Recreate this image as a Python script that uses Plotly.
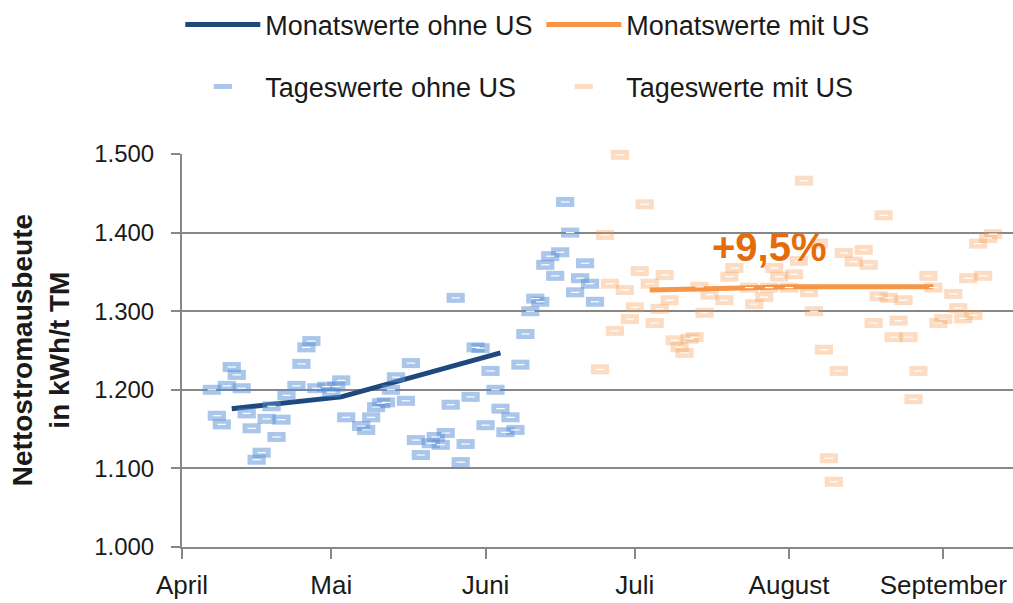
import plotly.graph_objects as go

# ---------------- data ----------------
months = ["April", "Mai", "Juni", "Juli", "August", "September"]
month_starts = ["2015-04-01", "2015-05-01", "2015-06-01", "2015-07-01", "2015-08-01", "2015-09-01"]

daily_ohne_dates = [
    "2015-04-07", "2015-04-08", "2015-04-09", "2015-04-10", "2015-04-11", "2015-04-12", "2015-04-13",
    "2015-04-14", "2015-04-15", "2015-04-16", "2015-04-17", "2015-04-18", "2015-04-19", "2015-04-20",
    "2015-04-21", "2015-04-22", "2015-04-24", "2015-04-25", "2015-04-26", "2015-04-27", "2015-04-28",
    "2015-04-30", "2015-05-01", "2015-05-02", "2015-05-03", "2015-05-04", "2015-05-07", "2015-05-08",
    "2015-05-09", "2015-05-10", "2015-05-11", "2015-05-12", "2015-05-13", "2015-05-14", "2015-05-16",
    "2015-05-17", "2015-05-18", "2015-05-19", "2015-05-21", "2015-05-22", "2015-05-23", "2015-05-24",
    "2015-05-25", "2015-05-26", "2015-05-27", "2015-05-28", "2015-05-29", "2015-05-30", "2015-05-31",
    "2015-06-01", "2015-06-02", "2015-06-03", "2015-06-04", "2015-06-05", "2015-06-06", "2015-06-07",
    "2015-06-08", "2015-06-09", "2015-06-10", "2015-06-11", "2015-06-12", "2015-06-13", "2015-06-14",
    "2015-06-15", "2015-06-16", "2015-06-17", "2015-06-18", "2015-06-19", "2015-06-20", "2015-06-21",
    "2015-06-22", "2015-06-23",
]
daily_ohne_values = [
    1200, 1167, 1156, 1205, 1229, 1219, 1202,
    1170, 1151, 1111, 1120, 1163, 1179, 1140,
    1162, 1193, 1205, 1233, 1254, 1262, 1202,
    1204, 1197, 1204, 1212, 1165, 1154, 1149,
    1165, 1178, 1183, 1184, 1200, 1216, 1186,
    1234, 1136, 1117, 1132, 1140, 1130, 1145,
    1181, 1317, 1108, 1131, 1191, 1254, 1253,
    1155, 1224, 1200, 1176, 1146, 1165, 1149,
    1232, 1271, 1300, 1316, 1312, 1359, 1370,
    1345, 1375, 1439, 1400, 1324, 1342, 1361,
    1335, 1312,
]

daily_mit_dates = [
    "2015-06-24", "2015-06-25", "2015-06-26", "2015-06-27", "2015-06-28", "2015-06-29", "2015-06-30",
    "2015-07-01", "2015-07-02", "2015-07-03", "2015-07-04", "2015-07-05", "2015-07-06", "2015-07-07",
    "2015-07-08", "2015-07-09", "2015-07-10", "2015-07-11", "2015-07-12", "2015-07-13", "2015-07-14",
    "2015-07-15", "2015-07-16", "2015-07-19", "2015-07-20", "2015-07-21", "2015-07-24", "2015-07-25",
    "2015-07-27", "2015-07-28", "2015-07-29", "2015-07-30", "2015-08-01", "2015-08-02", "2015-08-03",
    "2015-08-04", "2015-08-05", "2015-08-06", "2015-08-07", "2015-08-08", "2015-08-09", "2015-08-10",
    "2015-08-11", "2015-08-12", "2015-08-14", "2015-08-16", "2015-08-17", "2015-08-18", "2015-08-19",
    "2015-08-20", "2015-08-21", "2015-08-22", "2015-08-23", "2015-08-24", "2015-08-25", "2015-08-26",
    "2015-08-27", "2015-08-29", "2015-08-30", "2015-08-31", "2015-09-01", "2015-09-03", "2015-09-04",
    "2015-09-05", "2015-09-06", "2015-09-07", "2015-09-08", "2015-09-09", "2015-09-10", "2015-09-11",
]
daily_mit_values = [
    1226, 1397, 1335, 1275, 1499, 1327, 1290,
    1305, 1351, 1436, 1335, 1285, 1303, 1346,
    1314, 1263, 1254, 1247, 1265, 1267, 1331,
    1298, 1321, 1314, 1344, 1355, 1330, 1309,
    1318, 1330, 1355, 1344, 1330, 1347, 1364,
    1466, 1324, 1300, 1386, 1251, 1113, 1083,
    1224, 1374, 1363, 1378, 1359, 1285, 1319,
    1422, 1317, 1267, 1288, 1314, 1267, 1188,
    1224, 1345, 1330, 1285, 1290, 1322, 1304,
    1291, 1342, 1295, 1386, 1345, 1393, 1398,
]

monthly_ohne_dates = ["2015-04-11", "2015-05-03", "2015-06-04"]
monthly_ohne_values = [1176, 1191, 1247]
monthly_mit_dates = ["2015-07-04", "2015-08-01", "2015-08-30"]
monthly_mit_values = [1327, 1331, 1331]

increase_label = "+9,5%"
increase_pos = ("2015-07-28", 1382)

# ---------------- style ----------------
FONT = "Liberation Sans, Arial, sans-serif"
GRID = "#878787"
DARK_BLUE = "#1F497D"
ORANGE = "#F79646"
BLUE_MARK = "rgba(85,142,213,0.5)"
PEACH_MARK = "rgba(247,150,70,0.32)"
TEXT = "#1a1a1a"

fig = go.Figure()

fig.add_trace(go.Scatter(
    x=monthly_ohne_dates, y=monthly_ohne_values, mode="lines",
    name="Monatswerte ohne US", line=dict(color=DARK_BLUE, width=5),
    legend="legend",
))
fig.add_trace(go.Scatter(
    x=monthly_mit_dates, y=monthly_mit_values, mode="lines",
    name="Monatswerte mit US", line=dict(color=ORANGE, width=5),
    legend="legend",
))


def daily(x, y, color, name):
    fig.add_trace(go.Scatter(
        x=x, y=y, mode="markers", name=name, legend="legend2", cliponaxis=False,
        marker=dict(symbol="line-ew", size=13, color=color,
                    line=dict(color=color, width=10)),
    ))


daily(daily_ohne_dates, daily_ohne_values, BLUE_MARK, "Tageswerte ohne US")
daily(daily_mit_dates, daily_mit_values, PEACH_MARK, "Tageswerte mit US")

# white dash in the middle of each daily marker
for xs, ys in ((daily_ohne_dates, daily_ohne_values), (daily_mit_dates, daily_mit_values)):
    fig.add_trace(go.Scatter(
        x=xs, y=ys, mode="markers", showlegend=False, hoverinfo="skip", cliponaxis=False,
        marker=dict(symbol="line-ew", size=6, color="white",
                    line=dict(color="white", width=1.2)),
    ))

fig.add_annotation(
    x=increase_pos[0], y=increase_pos[1], text="<b>" + increase_label + "</b>",
    showarrow=False, font=dict(family=FONT, size=40, color="#E46C0A"),
    xanchor="center", yanchor="middle",
)

fig.add_annotation(
    xref="paper", yref="paper", x=-0.17, y=0.5, textangle=-90,
    text="<b>Nettostromausbeute<br>in kWh/t TM</b>", showarrow=False,
    font=dict(family=FONT, size=28, color=TEXT), xanchor="center", yanchor="middle",
)

legend_common = dict(
    orientation="h", xref="container", yref="container",
    x=0.178, xanchor="left", yanchor="middle",
    font=dict(size=27, color=TEXT, family=FONT),
    itemwidth=75, entrywidthmode="pixels", entrywidth=271,
    bgcolor="rgba(0,0,0,0)",
)

fig.update_layout(
    width=1013, height=603,
    margin=dict(l=182, r=0, t=154, b=56),
    paper_bgcolor="white", plot_bgcolor="white",
    separators=",.",
    font=dict(family=FONT, color=TEXT),
    showlegend=True,
    legend=dict(legend_common, y=1 - 25 / 603),
    legend2=dict(legend_common, y=1 - 87 / 603),
    xaxis=dict(
        type="date", range=["2015-04-01", "2015-09-15"], automargin=False,
        tickmode="array", tickvals=month_starts, ticktext=months,
        ticks="outside", ticklen=10, tickwidth=2, tickcolor=GRID,
        showline=True, linecolor=GRID, linewidth=2, showgrid=False, zeroline=False,
        tickfont=dict(size=26, family=FONT, color=TEXT),
        ticklabelstandoff=4,
    ),
    yaxis=dict(
        range=[1000, 1500], dtick=100, tick0=1000, tickformat=",d", automargin=False,
        ticks="outside", ticklen=9, tickwidth=2, tickcolor=GRID,
        showline=True, linecolor=GRID, linewidth=2,
        showgrid=True, gridcolor=GRID, gridwidth=2, zeroline=False,
        tickfont=dict(size=24, family=FONT, color=TEXT),
        ticklabelstandoff=12,
    ),
)

fig.write_html(
    "out.html",
    config={"displayModeBar": False},
    post_script="document.body.style.margin='0px';",
)
